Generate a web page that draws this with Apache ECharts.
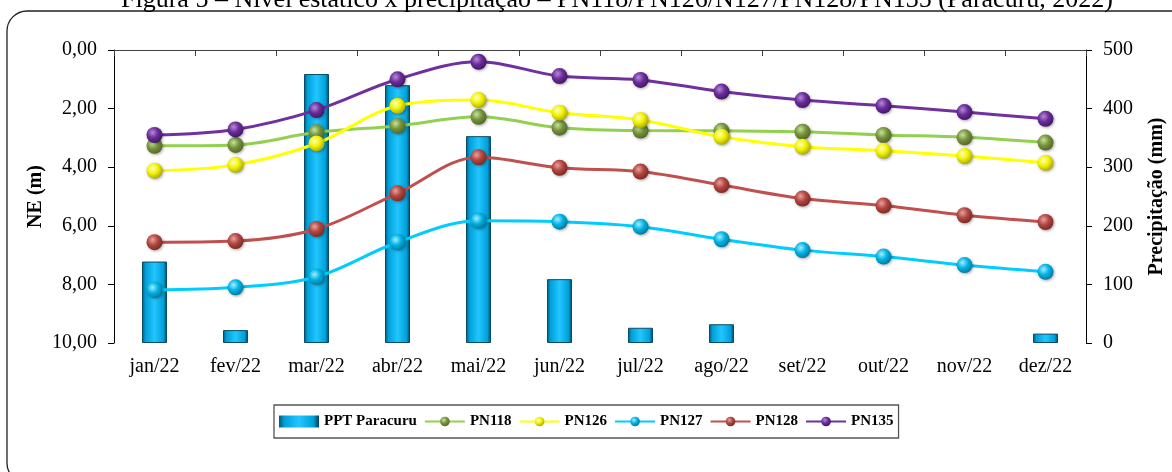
<!DOCTYPE html>
<html>
<head>
<meta charset="utf-8">
<script src="https://cdn.jsdelivr.net/npm/echarts@6/dist/echarts.min.js"></script>
<style>html,body{margin:0;padding:0;background:#fff}#c{width:1172px;height:472px}</style>
</head>
<body>
<div id="c"></div>
<script>
const months = ['jan/22','fev/22','mar/22','abr/22','mai/22','jun/22','jul/22','ago/22','set/22','out/22','nov/22','dez/22'];
const pptParacuru = [139, 22, 459, 440, 353, 109, 26, 32, 0, 0, 0, 16];
const pn118 = [3.27, 3.24, 2.81, 2.59, 2.28, 2.65, 2.75, 2.76, 2.79, 2.90, 2.98, 3.16];
const pn126 = [4.12, 3.92, 3.19, 1.91, 1.71, 2.14, 2.39, 2.96, 3.30, 3.44, 3.62, 3.85];
const pn127 = [8.19, 8.10, 7.74, 6.56, 5.83, 5.86, 6.03, 6.46, 6.83, 7.05, 7.34, 7.57];
const pn128 = [6.56, 6.52, 6.11, 4.89, 3.66, 4.02, 4.15, 4.61, 5.07, 5.31, 5.64, 5.87];
const pn135 = [2.90, 2.71, 2.05, 1.00, 0.40, 0.89, 1.02, 1.42, 1.71, 1.90, 2.12, 2.35];
const neTicks = {min: 0, max: 10, interval: 2};
const pptTicks = {min: 0, max: 500, interval: 100};

const serif = '"Liberation Serif","Times New Roman",serif';

function sphere(light, base, dark) {
  return new echarts.graphic.RadialGradient(0.38, 0.35, 0.75, [
    {offset: 0, color: light},
    {offset: 0.45, color: base},
    {offset: 1, color: dark}
  ]);
}
function lineSeries(name, data, lineColor, light, base, dark) {
  return {
    name: name, type: 'line', yAxisIndex: 0, data: data,
    smooth: 0.35, z: 5,
    symbol: 'circle', symbolSize: 16,
    lineStyle: {color: lineColor, width: 3},
    itemStyle: {color: sphere(light, base, dark), shadowBlur: 3, shadowColor: 'rgba(0,0,0,0.35)', shadowOffsetX: 1, shadowOffsetY: 1}
  };
}

const barFill = new echarts.graphic.LinearGradient(0, 0, 1, 0, [
  {offset: 0, color: '#06597a'},
  {offset: 0.14, color: '#00a0d8'},
  {offset: 0.5, color: '#22c6ff'},
  {offset: 0.86, color: '#00a0d8'},
  {offset: 1, color: '#043f57'}
]);

const barData = pptParacuru.map(v => ({
  value: v,
  itemStyle: v > 0 ? {borderColor: '#0a4c66', borderWidth: 1} : {borderWidth: 0}
}));

const chart = echarts.init(document.getElementById('c'), null, {renderer: 'canvas'});
chart.setOption({
  animation: false,
  backgroundColor: '#fff',
  title: {
    text: 'Figura 5 – Nível estático x precipitação – PN118/PN126/N127/PN128/PN135 (Paracuru, 2022)',
    left: 116, top: -18,
    textStyle: {fontFamily: serif, fontSize: 26, fontWeight: 'normal', color: '#000'}
  },
  graphic: [{
    type: 'rect', shape: {x: 7, y: 11, width: 1230, height: 472, r: 20},
    style: {fill: 'none', stroke: '#222', lineWidth: 1.3}, z: -1, silent: true
  }],
  grid: {left: 114, right: 86, top: 50, bottom: 129, outerBoundsMode: 'none', containLabel: false},
  legend: {
    top: 405, left: 274,
    padding: [9, 5, 9, 5],
    itemGap: 7, itemWidth: 40, itemHeight: 12,
    borderColor: '#555', borderWidth: 1.3,
    textStyle: {fontFamily: serif, fontSize: 15, fontWeight: 'bold', color: '#000'},
    data: [
      {name: 'PPT Paracuru', icon: 'rect'},
      'PN118', 'PN126', 'PN127', 'PN128', 'PN135'
    ]
  },
  xAxis: {
    type: 'category', data: months, boundaryGap: true,
    axisLine: {lineStyle: {color: '#404040', width: 1}},
    axisTick: {show: true, alignWithLabel: false, length: 6, lineStyle: {color: '#404040'}},
    axisLabel: {fontFamily: serif, fontSize: 20, color: '#000', margin: 14}
  },
  yAxis: [{
    type: 'value', inverse: true, min: neTicks.min, max: neTicks.max, interval: neTicks.interval,
    position: 'left',
    name: 'NE (m)', nameLocation: 'middle', nameGap: 68, nameRotate: 90, nameMoveOverlap: false,
    nameTextStyle: {fontFamily: serif, fontSize: 20, fontWeight: 'bold', color: '#000'},
    axisLine: {show: true, lineStyle: {color: '#000', width: 1}},
    axisTick: {show: true, length: 6, lineStyle: {color: '#000'}},
    splitLine: {show: false},
    axisLabel: {fontFamily: serif, fontSize: 20, color: '#000', margin: 17,
      formatter: v => v.toFixed(2).replace('.', ',')}
  }, {
    type: 'value', min: pptTicks.min, max: pptTicks.max, interval: pptTicks.interval,
    position: 'right',
    name: 'Precipitação (mm)', nameLocation: 'middle', nameGap: 61, nameRotate: 90, nameMoveOverlap: false,
    nameTextStyle: {fontFamily: serif, fontSize: 20, fontWeight: 'bold', color: '#000'},
    axisLine: {show: true, lineStyle: {color: '#000', width: 1}},
    axisTick: {show: true, length: 6, lineStyle: {color: '#000'}},
    splitLine: {show: false},
    axisLabel: {fontFamily: serif, fontSize: 20, color: '#000', margin: 17}
  }],
  series: [
    {
      name: 'PPT Paracuru', type: 'bar', yAxisIndex: 1, data: barData,
      barWidth: 25, z: 2,
      itemStyle: {color: barFill}
    },
    lineSeries('PN118', pn118, '#92D050', '#c4e69a', '#77933C', '#4b5e22'),
    lineSeries('PN126', pn126, '#FFFF00', '#ffffc0', '#f2f200', '#9a9a00'),
    lineSeries('PN127', pn127, '#00CCFF', '#a8ecff', '#00b4e6', '#006a8a'),
    lineSeries('PN128', pn128, '#C0504D', '#e6a3a1', '#b2453f', '#6e2420'),
    lineSeries('PN135', pn135, '#7030A0', '#b58ad6', '#6a2c99', '#3a1258')
  ]
});
</script>
</body>
</html>
